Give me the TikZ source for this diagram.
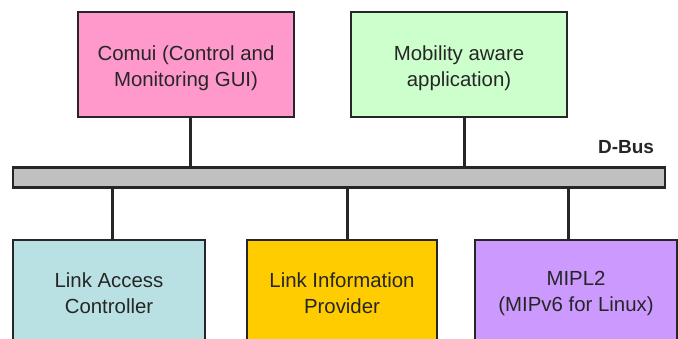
\documentclass[tikz,border=0pt]{standalone}
\usepackage{fontspec}
\setmainfont{Liberation Sans}
\begin{document}
\begin{tikzpicture}[x=1pt,y=-1pt,
  box/.style={draw=black!85,line width=2pt,inner sep=0pt,align=center,
    font=\fontsize{20.4}{26}\selectfont,text=black!85},
  link/.style={draw=black!85,line width=3pt}]
\clip (0,0) rectangle (678,339);
\definecolor{cpink}{HTML}{FF99CC}
\definecolor{cgreen}{HTML}{CCFFCC}
\definecolor{cgray}{HTML}{C0C0C0}
\definecolor{cblue}{HTML}{B9E1E4}
\definecolor{cgold}{HTML}{FFCC00}
\definecolor{cpurple}{HTML}{CC99FF}
\node[box,fill=cpink,minimum width=216pt,minimum height=105pt] (comui) at (186,64.5) {};
\node[align=center,font=\fontsize{20.4}{26}\selectfont,text=black!85] (comuit) at (186,68) {Comui (Control and\\Monitoring GUI)};
\node[box,fill=cgreen,minimum width=216pt,minimum height=105pt] (mob) at (459,64.5) {};
\node[align=center,font=\fontsize{20.4}{26}\selectfont,text=black!85] (mobt) at (459,68) {Mobility aware\\application)};
\node[draw=black!85,line width=2.5pt,fill=cgray,minimum width=652pt,minimum height=20pt,inner sep=0pt] (bus) at (339,177.5) {};
\node[font=\bfseries\fontsize{19}{22}\selectfont,text=black!85] (dbus) at (626,147) {D-Bus};
\node[box,fill=cblue,minimum width=192pt,minimum height=140pt,anchor=north] (lac) at (109,239) {};
\node[align=center,font=\fontsize{20.4}{26}\selectfont,text=black!85] (lact) at (109,293) {Link Access\\Controller};
\node[box,fill=cgold,minimum width=190pt,minimum height=140pt,anchor=north] (lip) at (342,239) {};
\node[align=center,font=\fontsize{20.4}{26}\selectfont,text=black!85] (lipt) at (342,293) {Link Information\\Provider};
\node[box,fill=cpurple,minimum width=202pt,minimum height=140pt,anchor=north] (mipl) at (576,239) {};
\node[align=center,font=\fontsize{20.4}{26}\selectfont,text=black!85] (miplt) at (576,293) {MIPL2\\(MIPv6 for Linux)};
\draw[link] ([xshift=4pt]comui.south) -- ([xshift=4pt]comui.south |- bus.north);
\draw[link] ([xshift=5pt]mob.south) -- ([xshift=5pt]mob.south |- bus.north);
\draw[link] ([xshift=3pt]lac.north) -- ([xshift=3pt]lac.north |- bus.south);
\draw[link] ([xshift=5pt]lip.north) -- ([xshift=5pt]lip.north |- bus.south);
\draw[link] ([xshift=-8pt]mipl.north) -- ([xshift=-8pt]mipl.north |- bus.south);
\end{tikzpicture}
\end{document}
